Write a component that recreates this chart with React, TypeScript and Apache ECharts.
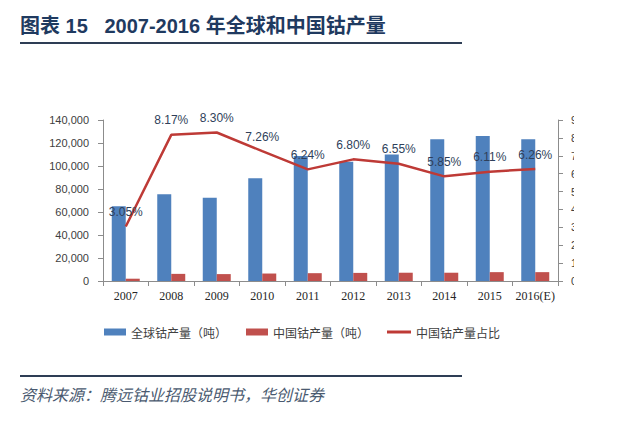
import React, { useEffect, useRef } from "react";
import * as echarts from "echarts";

const years = ["2007", "2008", "2009", "2010", "2011", "2012", "2013", "2014", "2015", "2016(E)"];
const globalOutput = [65000, 75400, 72400, 89300, 108700, 103700, 110000, 123200, 126000, 123200];
const chinaOutput = [2000, 6200, 6000, 6500, 6800, 7050, 7200, 7200, 7700, 7700];
const chinaShare = [3.05, 8.17, 8.3, 7.26, 6.24, 6.8, 6.55, 5.85, 6.11, 6.26];
const seriesNames = ["全球钴产量（吨）", "中国钴产量（吨）", "中国钴产量占比"];
const titleText = "图表 15   2007-2016 年全球和中国钴产量";
const sourceText = "资料来源：腾远钴业招股说明书，华创证券";

export default function App() {
  const ref = useRef<HTMLDivElement>(null);
  useEffect(() => {
    if (!ref.current) return;
    const chart = echarts.init(ref.current, null, { renderer: "svg" });
    const axisColor = "#8c8c8c";
    const sans = "'Liberation Sans', 'Noto Sans CJK SC', sans-serif";
    const legendText = { fontSize: 12, color: "#404040", fontFamily: "'Noto Sans CJK SC', sans-serif" };
    const lineColor = "#BE3A36";
    chart.setOption({
      animation: false,
      backgroundColor: "#ffffff",
      grid: { left: 103, right: 75, top: 120, bottom: 140, containLabel: false },
      legend: [
        {
          left: 104,
          top: 326,
          padding: 0,
          itemWidth: 22,
          itemHeight: 7,
          textStyle: legendText,
          data: [{ name: seriesNames[0], icon: "rect" }],
        },
        {
          left: 246,
          top: 326,
          padding: 0,
          itemWidth: 22,
          itemHeight: 7,
          textStyle: legendText,
          data: [{ name: seriesNames[1], icon: "rect" }],
        },
        {
          left: 387,
          top: 326,
          padding: 0,
          itemWidth: 24,
          itemHeight: 3,
          textStyle: legendText,
          data: [
            {
              name: seriesNames[2],
              icon: "rect",
              itemStyle: { color: lineColor, opacity: 1, borderWidth: 0 },
            },
          ],
        },
      ],
      xAxis: {
        type: "category",
        data: years,
        axisLine: { lineStyle: { color: axisColor } },
        axisTick: { show: true, length: 5, interval: 0, lineStyle: { color: axisColor } },
        axisLabel: {
          interval: 0,
          margin: 9,
          fontSize: 12,
          color: "#262626",
          fontFamily: "'Liberation Serif', serif",
        },
      },
      yAxis: [
        {
          type: "value",
          min: 0,
          max: 140000,
          interval: 20000,
          splitLine: { show: false },
          axisLine: { show: true, lineStyle: { color: axisColor } },
          axisTick: { show: true, length: 5, lineStyle: { color: axisColor } },
          axisLabel: {
            margin: 14,
            fontSize: 11,
            color: "#404040",
            fontFamily: sans,
            formatter: (v: number) => v.toLocaleString("en-US"),
          },
        },
        {
          type: "value",
          min: 0,
          max: 9,
          interval: 1,
          position: "right",
          splitLine: { show: false },
          axisLine: { show: true, lineStyle: { color: axisColor } },
          axisTick: { show: true, length: 5, lineStyle: { color: axisColor } },
          axisLabel: { margin: 13, fontSize: 11, color: "#404040", fontFamily: sans, formatter: "{value}%" },
        },
      ],
      series: [
        {
          name: seriesNames[0],
          type: "bar",
          data: globalOutput,
          barWidth: 14,
          barGap: "0%",
          itemStyle: { color: "#4F81BD" },
        },
        {
          name: seriesNames[1],
          type: "bar",
          data: chinaOutput,
          barWidth: 14,
          barGap: "0%",
          itemStyle: { color: "#C0504D" },
        },
        {
          name: seriesNames[2],
          type: "line",
          yAxisIndex: 1,
          data: chinaShare,
          symbol: "circle",
          symbolSize: 1,
          showSymbol: true,
          lineStyle: { color: lineColor, width: 2.5 },
          itemStyle: { color: "rgba(0,0,0,0)", borderWidth: 0 },
          label: {
            show: true,
            position: "top",
            distance: 8,
            fontSize: 12,
            color: "#2F3F5A",
            fontFamily: sans,
            formatter: (p: any) => p.value.toFixed(2) + "%",
          },
          z: 5,
        },
      ],
      graphic: [
        { type: "rect", z: 100, shape: { x: 574, y: 90, width: 60, height: 210 }, style: { fill: "#ffffff" } },
        {
          type: "text",
          left: 20,
          top: 16,
          style: {
            text: titleText,
            fontSize: 20,
            fontWeight: "bold",
            fill: "#1F3A60",
            fontFamily: "'Liberation Sans', 'Noto Sans CJK SC', sans-serif",
          },
        },
        { type: "rect", shape: { x: 20, y: 42, width: 442, height: 2 }, style: { fill: "#2E3E55" } },
        { type: "rect", shape: { x: 20, y: 375, width: 442, height: 2 }, style: { fill: "#2E3E55" } },
        {
          type: "text",
          left: 20,
          top: 386,
          style: {
            text: sourceText,
            fontSize: 16,
            fontStyle: "italic",
            fill: "#4A5A70",
            fontFamily: "'Noto Sans CJK SC', sans-serif",
          },
        },
      ],
    });
    return () => chart.dispose();
  }, []);
  return <div ref={ref} style={{ width: 633, height: 421, position: "absolute", left: 0, top: 0 }} />;
}
